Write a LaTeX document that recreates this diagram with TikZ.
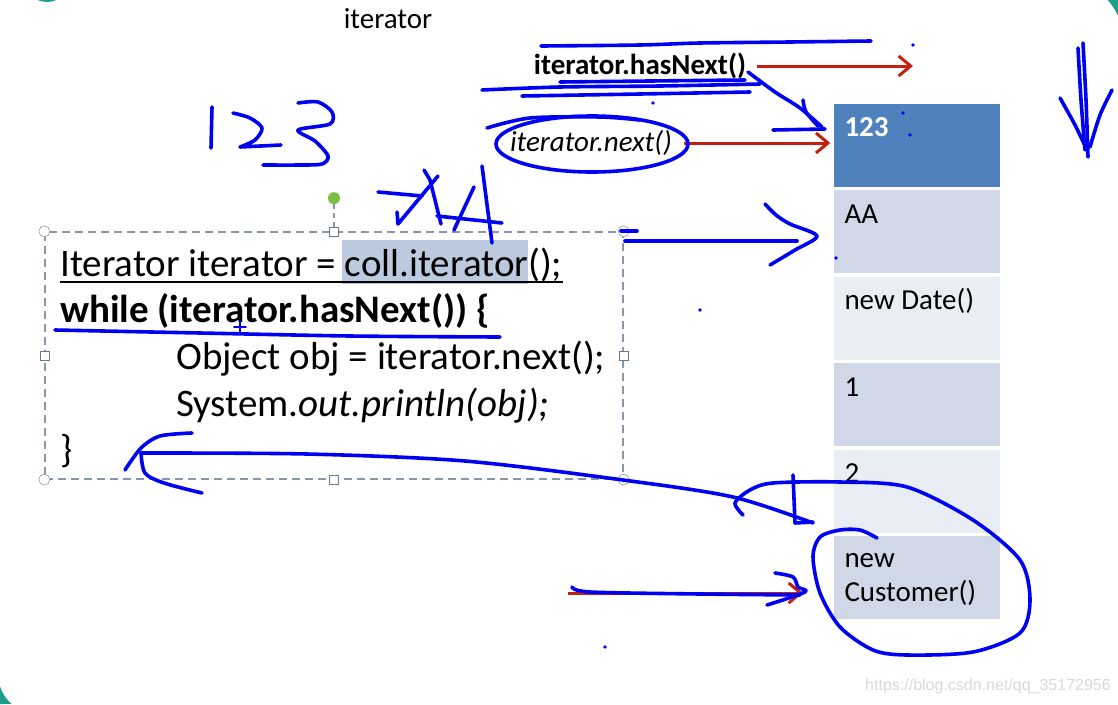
\documentclass[tikz,border=0pt]{standalone}
\usepackage{fontspec}
\setmainfont{Carlito}
\newfontfamily\markfamily{Liberation Sans}
\usepackage{xcolor}
\definecolor{slideTeal}  {HTML}{1F9E8E}
\definecolor{cellDark}   {HTML}{4F81BD}
\definecolor{cellMid}    {HTML}{D0D8E8}
\definecolor{cellLight}  {HTML}{E9EDF4}
\definecolor{penBlue}    {HTML}{0000F2}
\definecolor{arrowRed}   {HTML}{C4200F}
\definecolor{selBack}    {HTML}{BCCADF}
\definecolor{frameGray}  {HTML}{8797AC}
\definecolor{handleGreen}{HTML}{7DBF46}
\definecolor{markGray}   {HTML}{D9D9D9}
\newcommand{\slidesize}{\fontsize{29}{34}\selectfont}
\newcommand{\codesize}{\fontsize{39}{46}\selectfont}
\usetikzlibrary{arrows.meta, positioning, calc}
\tikzset{
    slidetext/.style={inner sep=0pt, font=\slidesize},
    cell/.style={rectangle, minimum width=166pt, minimum height=83pt, inner sep=0pt},
    celltext/.style={anchor=base west, inner sep=0pt, font=\slidesize},
    codebox/.style={draw=frameGray, dash pattern=on 8pt off 5pt, line width=1.3pt,
                    minimum width=578pt, minimum height=247pt, inner sep=0pt},
    codeline/.style={anchor=base west, inner sep=0pt, font=\codesize},
    rhandle/.style={circle, draw=frameGray!80!black, fill=white, minimum size=11pt, inner sep=0pt},
    shandle/.style={rectangle, draw=frameGray!80!black, fill=white, minimum size=9pt, inner sep=0pt},
    ghandle/.style={circle, fill=handleGreen, minimum size=12pt, inner sep=0pt},
    redarrow/.style={-{Straight Barb[length=12pt, width=20pt, line width=3pt]}, arrowRed, line width=3pt},
    pen/.style={penBlue, line width=3.6pt, line cap=round, line join=round},
    penthin/.style={penBlue, line width=1.6pt, line cap=round},
    watermark/.style={inner sep=0pt, font=\markfamily\fontsize{16}{18}\selectfont, text=markGray},
}

\begin{document}
\begin{tikzpicture}[x=1pt, y=-1pt, node distance=3pt]
    \useasboundingbox (0,0) rectangle (1118,704);
    \fill[white] (0,0) rectangle (1118,704);
    \fill[slideTeal] (47,-20) circle[radius=22];
    \fill[slideTeal] (1107.7,0) arc[start angle=-41.8, end angle=-23.6, radius=60] -- (1118,0) -- cycle;
    \fill[slideTeal] (0,686.5) arc[start angle=161.8, end angle=131.5, radius=40] -- (0,704) -- cycle;

    \node[slidetext] (title) at (388,19) {iterator};
    \node[slidetext, font=\slidesize\bfseries] (hasnext) at (640,66) {iterator.hasNext()};
    \node[slidetext, font=\slidesize\itshape] (nextcall) at (591,143) {iterator.next()};

    \node[cell, fill=cellDark] (c1) at (916.5,145.5) {};
    \node[cell, fill=cellMid, below=of c1] (c2) {};
    \node[cell, fill=cellLight, below=of c2] (c3) {};
    \node[cell, fill=cellMid, below=of c3] (c4) {};
    \node[cell, fill=cellLight, below=of c4] (c5) {};
    \node[cell, fill=cellMid, below=of c5] (c6) {};
    \node[celltext, text=white, font=\slidesize\bfseries] (t1) at ($(c1.north west)+(11,33)$) {123};
    \node[celltext] (t2) at ($(c2.north west)+(11,33)$) {AA};
    \node[celltext] (t3) at ($(c3.north west)+(11,33)$) {new Date()};
    \node[celltext] (t4) at ($(c4.north west)+(11,33)$) {1};
    \node[celltext] (t5) at ($(c5.north west)+(11,33)$) {2};
    \node[celltext] (t6) at ($(c6.north west)+(11,32)$) {new};
    \node[celltext] (t7) at ($(c6.north west)+(11,66)$) {Customer()};

    \coordinate (hasnextend) at (913,66);
    \draw[redarrow] ([xshift=11pt]hasnext.east) -- (hasnextend);
    \draw[redarrow, shorten >=3pt] ([xshift=12pt]nextcall.east) -- (c1.west |- nextcall);

    \node[codebox] (code) at (334,355.5) {};
    \node[ghandle, above=27pt of code.north] (rot) {};
    \draw[frameGray, dash pattern=on 5pt off 4pt, line width=1.3pt] (rot) -- (code.north);
    \foreach \a in {north west, north east, south west, south east}
        \node[rhandle] at (code.\a) {};
    \foreach \a in {north, south, west, east}
        \node[shandle] at (code.\a) {};
    \fill[selBack] (342,240) rectangle (528,284);
    \node[codeline] (l1) at (60,276) {Iterator iterator = coll.iterator();};
    \node[codeline, font=\codesize\bfseries] (l2) at (60,322) {while (iterator.hasNext()) \{};
    \node[codeline] (l3) at (176,369) {Object obj = iterator.next();};
    \node[codeline] (l4) at (176,416) {System.\textit{out.println(obj);}};
    \node[codeline] (l5) at (60,462) {\}};
    \draw[line width=1.2pt] ($(l1.base west)+(0,6)$) -- ($(l1.base east)+(0,6)$);

    \coordinate (custfrom) at (568,593);
    \coordinate (custto) at (803,593);
    \draw[redarrow] (custfrom) -- (custto);

    \node[watermark] (mark) at (988,686) {https://blog.csdn.net/qq\_35172956};

    % pen strokes
    \draw[pen] plot[smooth] coordinates {(541,46) (640,45) (700,43) (790,42) (871,41)};
    \draw[pen] plot[smooth] coordinates {(482,90) (560,87) (660,86) (760,84)};
    \draw[pen] plot[smooth] coordinates {(522,96) (640,94) (750,92)};
    \draw[pen] plot[smooth] coordinates {(560,82) (650,81) (745,80)};
    \draw[pen] plot[smooth] coordinates {(748,72) (775,92) (800,108) (822,127)};
    \draw[pen] plot[smooth] coordinates {(803,100) (806,112) (818,126)};
    \draw[pen] (773,130) -- (825,129);
    \draw[pen] (592,144) ellipse[x radius=96, y radius=28];
    \draw[pen] plot[smooth] coordinates {(487,128) (530,118) (600,117) (640,120)};

    \draw[pen] (212,107) -- (211,148);
    \draw[pen] plot[smooth] coordinates {(233,113) (250,118) (262,128) (255,140) (240,147)} -- (281,145);
    \draw[pen] plot[smooth] coordinates {(298,103) (318,102) (332,112) (330,124) (298,130) (315,141) (328,156) (322,164) (300,165) (263,165)};

    \draw[pen] (378,192) -- (422,196);
    \draw[pen] (438,176) -- (398,224) -- (397,212);
    \draw[pen] (424,170) -- (430,180) -- (441,224);
    \draw[pen] (474,187) -- (454,230);
    \draw[pen] (482,166) -- (492,243);
    \draw[pen] (437,216) -- (502,223);

    \draw[pen] (621,231) -- (637,231);
    \draw[pen] (625,241) -- (797,241);
    \draw[pen] plot[smooth] coordinates {(765,204) (776,215) (790,224) (817,236) (795,250) (770,265)};

    \draw[pen] plot[smooth] coordinates {(55,330) (200,333) (350,336) (500,337)};
    \draw[penthin] (240,321) -- (240,333);
    \draw[penthin] (234,327) -- (246,327);

    \draw[pen] plot[smooth] coordinates {(813,523) (733,497) (623,480) (465,461) (307,454) (141,453)};
    \draw[pen] plot[smooth] coordinates {(192,433) (160,436) (141,448) (125,470)};
    \draw[pen] plot[smooth] coordinates {(141,453) (145,473) (164,483) (202,493)};
    \draw[pen] plot[smooth] coordinates {(743,515) (735,503) (750,490) (773,483) (840,482) (907,487)
        (973,520) (1020,560) (1030,600) (1020,633) (973,652) (907,655) (873,650) (840,627)
        (820,593) (813,557) (820,537) (840,530) (860,530) (877,538)};
    \draw[pen] (793,475) -- (795,523) -- (813,522);

    \draw[pen] plot[smooth] coordinates {(572,587) (590,592) (700,594) (800,595)};
    \draw[pen] plot[smooth] coordinates {(775,573) (793,577) (798,587) (805,592) (767,605)};

    \draw[pen] plot[smooth] coordinates {(1083,43) (1086,100) (1088,157)};
    \draw[pen] plot[smooth] coordinates {(1078,48) (1081,100) (1085,150)};
    \draw[pen] plot[smooth] coordinates {(1060,98) (1075,125) (1087,150)};
    \draw[pen] plot[smooth] coordinates {(1112,90) (1100,115) (1090,147)};

    \foreach \p in {(913,45),(653,103),(903,113),(910,135),(836,258),(700,310),(605,647)}
        \fill[penBlue] \p circle[radius=1.8];
\end{tikzpicture}
\end{document}
